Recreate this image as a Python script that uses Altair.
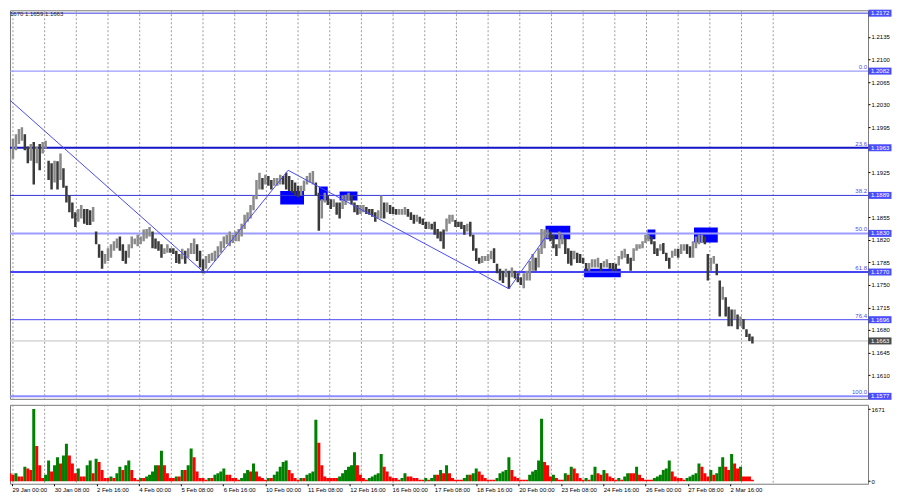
import json
import altair as alt
import pandas as pd
import numpy as np

FONT = "Liberation Sans"

# ---------------- data ----------------
# samples of the hourly EURUSD bars; time = trading hours after 29 Jan 00:00
first_hour = -6.0
hours_per_sample = 2.25

price_high = [
    1.1954, 1.1954, 1.1951, 1.1977, 1.1984, 1.1992, 1.1995, 1.1984, 1.1965, 1.1969,
    1.1972, 1.1965, 1.1969, 1.1972, 1.1974, 1.1943, 1.1939, 1.1943, 1.1942, 1.1954,
    1.1931, 1.1904, 1.1889, 1.1878, 1.1863, 1.1868, 1.1874, 1.1868, 1.1868, 1.1866,
    1.1871, 1.1833, 1.1813, 1.1803, 1.1798, 1.1807, 1.1813, 1.1818, 1.1822, 1.1825,
    1.1813, 1.1803, 1.1813, 1.1825, 1.1822, 1.1828, 1.1825, 1.1836, 1.1837, 1.1840,
    1.1833, 1.1822, 1.1818, 1.1813, 1.1807, 1.1813, 1.1807, 1.1807, 1.1803, 1.1798,
    1.1806, 1.1803, 1.1807, 1.1815, 1.1822, 1.1813, 1.1803, 1.1790, 1.1795, 1.1798,
    1.1800, 1.1803, 1.1810, 1.1818, 1.1825, 1.1828, 1.1833, 1.1828, 1.1833, 1.1837,
    1.1845, 1.1859, 1.1863, 1.1874, 1.1889, 1.1913, 1.1924, 1.1916, 1.1921, 1.1919,
    1.1913, 1.1916, 1.1916, 1.1921, 1.1919, 1.1924, 1.1919, 1.1913, 1.1909, 1.1904,
    1.1904, 1.1912, 1.1919, 1.1924, 1.1927, 1.1909, 1.1893, 1.1883, 1.1893, 1.1889,
    1.1883, 1.1883, 1.1878, 1.1878, 1.1889, 1.1890, 1.1893, 1.1889, 1.1878, 1.1874,
    1.1874, 1.1874, 1.1871, 1.1868, 1.1868, 1.1863, 1.1866, 1.1889, 1.1878, 1.1878,
    1.1874, 1.1871, 1.1868, 1.1868, 1.1868, 1.1871, 1.1868, 1.1863, 1.1859, 1.1859,
    1.1856, 1.1853, 1.1848, 1.1848, 1.1845, 1.1848, 1.1837, 1.1833, 1.1836, 1.1853,
    1.1859, 1.1859, 1.1851, 1.1848, 1.1848, 1.1843, 1.1845, 1.1848, 1.1828, 1.1807,
    1.1792, 1.1795, 1.1795, 1.1798, 1.1803, 1.1807, 1.1783, 1.1775, 1.1772, 1.1775,
    1.1772, 1.1777, 1.1772, 1.1768, 1.1762, 1.1768, 1.1772, 1.1787, 1.1798, 1.1792,
    1.1807, 1.1837, 1.1836, 1.1836, 1.1833, 1.1828, 1.1813, 1.1833, 1.1828, 1.1822,
    1.1807, 1.1803, 1.1803, 1.1800, 1.1798, 1.1792, 1.1784, 1.1784, 1.1790, 1.1790,
    1.1792, 1.1784, 1.1787, 1.1790, 1.1784, 1.1784, 1.1783, 1.1795, 1.1803, 1.1806,
    1.1798, 1.1792, 1.1807, 1.1813, 1.1813, 1.1818, 1.1828, 1.1828, 1.1825, 1.1818,
    1.1807, 1.1813, 1.1815, 1.1800, 1.1792, 1.1803, 1.1806, 1.1806, 1.1813, 1.1813,
    1.1813, 1.1810, 1.1818, 1.1825, 1.1828, 1.1828, 1.1825, 1.1798, 1.1792, 1.1795,
    1.1783, 1.1757, 1.1747, 1.1731, 1.1716, 1.1712, 1.1712, 1.1704, 1.1701, 1.1697,
    1.1681, 1.1674, 1.1670,
]
price_low = [
    1.1931, 1.1898, 1.1939, 1.1946, 1.1959, 1.1969, 1.1974, 1.1959, 1.1939, 1.1943,
    1.1906, 1.1939, 1.1928, 1.1954, 1.1962, 1.1913, 1.1898, 1.1909, 1.1898, 1.1913,
    1.1901, 1.1878, 1.1863, 1.1853, 1.1840, 1.1848, 1.1853, 1.1845, 1.1843, 1.1843,
    1.1848, 1.1813, 1.1792, 1.1775, 1.1783, 1.1787, 1.1792, 1.1803, 1.1807, 1.1803,
    1.1787, 1.1783, 1.1792, 1.1807, 1.1813, 1.1810, 1.1813, 1.1818, 1.1822, 1.1825,
    1.1807, 1.1806, 1.1803, 1.1792, 1.1798, 1.1800, 1.1800, 1.1798, 1.1784, 1.1783,
    1.1790, 1.1783, 1.1792, 1.1798, 1.1798, 1.1787, 1.1777, 1.1768, 1.1775, 1.1784,
    1.1787, 1.1787, 1.1792, 1.1800, 1.1807, 1.1813, 1.1810, 1.1815, 1.1818, 1.1818,
    1.1825, 1.1837, 1.1848, 1.1853, 1.1866, 1.1883, 1.1898, 1.1898, 1.1906, 1.1904,
    1.1898, 1.1904, 1.1904, 1.1906, 1.1906, 1.1898, 1.1896, 1.1893, 1.1889, 1.1886,
    1.1889, 1.1896, 1.1906, 1.1909, 1.1906, 1.1889, 1.1834, 1.1853, 1.1878, 1.1874,
    1.1868, 1.1871, 1.1859, 1.1853, 1.1868, 1.1874, 1.1881, 1.1875, 1.1863, 1.1859,
    1.1860, 1.1863, 1.1860, 1.1859, 1.1856, 1.1848, 1.1853, 1.1853, 1.1853, 1.1863,
    1.1860, 1.1860, 1.1859, 1.1859, 1.1859, 1.1859, 1.1856, 1.1851, 1.1845, 1.1848,
    1.1845, 1.1843, 1.1837, 1.1837, 1.1836, 1.1828, 1.1822, 1.1818, 1.1806, 1.1833,
    1.1845, 1.1848, 1.1840, 1.1840, 1.1837, 1.1828, 1.1833, 1.1825, 1.1803, 1.1787,
    1.1783, 1.1784, 1.1787, 1.1787, 1.1790, 1.1784, 1.1768, 1.1757, 1.1753, 1.1762,
    1.1744, 1.1762, 1.1760, 1.1754, 1.1750, 1.1745, 1.1757, 1.1757, 1.1772, 1.1772,
    1.1777, 1.1798, 1.1807, 1.1822, 1.1818, 1.1807, 1.1795, 1.1807, 1.1813, 1.1798,
    1.1783, 1.1780, 1.1790, 1.1784, 1.1784, 1.1783, 1.1772, 1.1772, 1.1777, 1.1777,
    1.1777, 1.1772, 1.1777, 1.1777, 1.1775, 1.1772, 1.1772, 1.1780, 1.1790, 1.1792,
    1.1783, 1.1772, 1.1787, 1.1803, 1.1806, 1.1807, 1.1815, 1.1818, 1.1813, 1.1798,
    1.1795, 1.1803, 1.1798, 1.1787, 1.1775, 1.1792, 1.1795, 1.1792, 1.1798, 1.1803,
    1.1798, 1.1792, 1.1792, 1.1807, 1.1813, 1.1815, 1.1813, 1.1757, 1.1772, 1.1783,
    1.1765, 1.1701, 1.1727, 1.1701, 1.1686, 1.1686, 1.1697, 1.1681, 1.1686, 1.1681,
    1.1669, 1.1663, 1.1659,
]
volume = [
    520, 817, 186, 149, 186, 111, 111, 334, 297, 260,
    1671, 817, 372, 74, 149, 483, 223, 372, 557, 409,
    594, 869, 594, 409, 186, 297, 111, 111, 372, 483,
    186, 520, 446, 260, 74, 74, 111, 74, 186, 334,
    260, 372, 483, 260, 74, 37, 74, 74, 111, 149,
    223, 372, 372, 706, 372, 186, 74, 74, 111, 111,
    260, 260, 372, 758, 557, 223, 74, 74, 37, 74,
    74, 149, 186, 223, 297, 149, 149, 74, 74, 37,
    74, 186, 260, 223, 409, 223, 111, 74, 37, 74,
    74, 149, 223, 334, 446, 483, 260, 186, 74, 37,
    74, 74, 149, 186, 223, 1427, 892, 372, 111, 74,
    74, 74, 74, 111, 186, 260, 334, 372, 669, 372,
    149, 74, 37, 74, 111, 149, 186, 632, 334, 223,
    111, 74, 74, 37, 74, 186, 111, 111, 74, 74,
    37, 37, 74, 37, 74, 149, 149, 260, 186, 372,
    186, 74, 37, 37, 37, 74, 149, 149, 186, 297,
    223, 149, 74, 37, 37, 37, 74, 186, 223, 260,
    557, 260, 111, 74, 37, 37, 37, 149, 223, 260,
    483, 1449, 446, 372, 111, 149, 74, 37, 37, 186,
    149, 334, 297, 186, 74, 37, 74, 37, 149, 334,
    186, 149, 260, 186, 111, 74, 37, 74, 37, 111,
    186, 186, 186, 334, 149, 74, 37, 37, 37, 74,
    111, 149, 260, 297, 483, 223, 111, 74, 74, 37,
    74, 111, 149, 186, 409, 334, 186, 111, 260, 149,
    186, 334, 557, 334, 260, 632, 409, 297, 334, 111,
    111, 111, 37,
]
volume_max = 1671

fib_levels = [1.2082, 1.1963, 1.1889, 1.1830, 1.1770, 1.1696, 1.1577]
fib_names = ["0.0", "23.6", "38.2", "50.0", "61.8", "76.4", "100.0"]
top_level = 1.2172
last_price = 1.1663

zigzag_hours = [-6.0, 146.25, 209.25, 376.5, 404.25]
zigzag_prices = [1.2045, 1.1768, 1.1928, 1.1744, 1.1824]

zone_start = [203.25, 232.5, 248.25, 404.25, 433.5, 481.5, 516.75]
zone_end = [221.25, 239.25, 261.75, 423.0, 461.25, 487.5, 534.75]
zone_top = [1.1896, 1.1903, 1.1895, 1.1842, 1.1775, 1.1836, 1.1839]
zone_bottom = [1.1875, 1.1881, 1.1881, 1.1821, 1.1762, 1.1821, 1.1816]

tick_prices = [1.2135, 1.2100, 1.2065, 1.2030, 1.1995, 1.1925, 1.1855, 1.1820,
               1.1785, 1.1750, 1.1715, 1.1680, 1.1645, 1.1610]
time_labels = ["29 Jan 00:00", "30 Jan 08:00", "2 Feb 16:00", "4 Feb 00:00",
               "5 Feb 08:00", "6 Feb 16:00", "10 Feb 00:00", "11 Feb 08:00",
               "12 Feb 16:00", "16 Feb 00:00", "17 Feb 08:00", "18 Feb 16:00",
               "20 Feb 00:00", "23 Feb 08:00", "24 Feb 16:00", "26 Feb 00:00",
               "27 Feb 08:00", "2 Mar 16:00"]
hours_per_label = 32
grid_hours = [0.75 + 24 * i for i in range(25)]
ohlc_text = "1670 1.1659 1.1663"

# ---------------- styles / layout ----------------
fib_colors = ["#9c9cff", "#1414c8", "#3434d8", "#9c9cff", "#4646f0", "#4646f0", "#8c8cff"]
fib_widths = [1.5, 2, 1, 2, 2, 1, 2]
UP_COL, DOWN_COL = "#8a8a8a", "#3a3a3a"

X_DOMAIN = [-1.5, 648.6]
PRICE_DOMAIN = [1.15731, 1.21765]
VOL_DOMAIN = [-58, 1770]
W, H_MAIN, H_VOL = 859, 389, 79

# ---------------- tables ----------------
n = len(price_high)
hours = [first_hour + hours_per_sample * i for i in range(n)]
bars = pd.DataFrame({"h": hours, "high": price_high, "low": price_low})
mid = (bars["high"] + bars["low"]) / 2
bars["col"] = np.where(mid.diff().fillna(0) >= 0, UP_COL, DOWN_COL)

vol = pd.DataFrame({"h": hours, "v": volume, "zero": 0})
vol["col"] = np.where(vol["v"].diff().fillna(1) > 0, "#008000", "#ff0000")

fib = pd.DataFrame({"price": fib_levels, "name": fib_names,
                    "col": fib_colors, "w": fib_widths})
grid = pd.DataFrame({"h": grid_hours})
zig = pd.DataFrame({"h": zigzag_hours, "price": zigzag_prices,
                    "i": list(range(len(zigzag_hours)))})
zones = pd.DataFrame({"h": zone_start, "h2": zone_end,
                      "price": zone_top, "p2": zone_bottom})
box_prices = [top_level] + fib_levels + [last_price]
boxes = pd.DataFrame({
    "price": box_prices,
    "lab": [f"{p:.4f}" for p in box_prices],
    "col": ["#0000ff"] * (len(fib_levels) + 1) + ["#000000"],
    "off": [1.0] + [0.0] * len(fib_levels) + [0.0],
})
single = pd.DataFrame({"price": [top_level], "lab": [ohlc_text]})
lastdf = pd.DataFrame({"price": [last_price]})

# ---------------- encodings ----------------
xs = alt.Scale(domain=X_DOMAIN, nice=False, zero=False)
ys = alt.Scale(domain=PRICE_DOMAIN, nice=False, zero=False)
vs = alt.Scale(domain=VOL_DOMAIN, nice=False, zero=False)

y_axis = alt.Axis(orient="right", values=tick_prices, format=".4f", labelFontSize=6,
                  labelColor="#000000", tickSize=2, tickColor="#000000", labelPadding=1,
                  domain=False, grid=False, title=None, labelOverlap=False)
XM = alt.X("h:Q", scale=xs, axis=None)
YM = alt.Y("price:Q", scale=ys, axis=y_axis)

label_expr = json.dumps(time_labels) + f"[round(datum.value / {hours_per_label})]"
x_axis = alt.Axis(values=[hours_per_label * i for i in range(len(time_labels))],
                  labelExpr=label_expr, labelAlign="left", labelFontSize=6,
                  labelColor="#000000", tickSize=2, tickColor="#000000", labelPadding=1,
                  domain=False, grid=False, title=None, labelFlush=False,
                  labelOverlap=False, labelBound=False)
XV = alt.X("h:Q", scale=xs, axis=x_axis)
v_axis = alt.Axis(orient="right", values=[0, volume_max], format="d", labelFontSize=6,
                  labelColor="#000000", tickSize=2, tickColor="#000000", labelPadding=1,
                  domain=False, grid=False, title=None, labelOverlap=False)

# ---------------- main panel ----------------
grid_main = alt.Chart(grid).mark_rule(color="#9c9c9c", strokeDash=[2, 2], strokeWidth=1,
                                      clip=True).encode(x=XM)
zone_layer = alt.Chart(zones).mark_rect(color="#0000ff", clip=True).encode(
    x=XM, x2="h2:Q", y=YM, y2="p2:Q")
fib_lines = alt.Chart(fib).mark_rule().encode(
    y=YM, color=alt.Color("col:N", scale=None),
    strokeWidth=alt.StrokeWidth("w:Q", scale=None))
top_line = alt.Chart(single).mark_rule(color="#3c3cdc", strokeWidth=1).encode(y=YM)
last_line = alt.Chart(lastdf).mark_rule(color="#c0c0c0", strokeWidth=1).encode(y=YM)
price_bars = alt.Chart(bars).mark_rule(strokeWidth=2.5, clip=True).encode(
    x=XM, y=alt.Y("low:Q", scale=ys, axis=y_axis), y2="high:Q",
    color=alt.Color("col:N", scale=None))
zig_line = alt.Chart(zig).mark_line(color="#4a4af5", strokeWidth=1, clip=True).encode(
    x=XM, y=YM, order="i:Q")
fib_text = alt.Chart(fib).mark_text(align="right", baseline="bottom", dy=-1, fontSize=6,
                                    color="#4a4af0").encode(
    x=alt.value(W - 1), y=YM, text="name:N")
box_marks = alt.Chart(boxes).mark_tick(orient="horizontal", size=23, thickness=7).encode(
    x=alt.value(W + 12), y=YM, yOffset=alt.YOffset("off:Q", scale=None),
    color=alt.Color("col:N", scale=None))
box_text = alt.Chart(boxes).mark_text(align="left", baseline="middle", fontSize=6,
                                      color="#ffffff").encode(
    x=alt.value(W + 3), y=YM, yOffset=alt.YOffset("off:Q", scale=None), text="lab:N")
ohlc = alt.Chart(single).mark_text(align="left", baseline="top", fontSize=6,
                                   color="#202020").encode(
    x=alt.value(0), y=alt.value(1), text="lab:N")

main = alt.layer(grid_main, zone_layer, fib_lines, top_line, last_line, price_bars,
                 zig_line, fib_text, box_marks, box_text, ohlc).properties(
    width=W, height=H_MAIN)

# ---------------- volume panel ----------------
grid_vol = alt.Chart(grid).mark_rule(color="#9c9c9c", strokeDash=[2, 2], strokeWidth=1,
                                     clip=True).encode(x=XV)
vol_bars = alt.Chart(vol).mark_rule(strokeWidth=3, clip=True).encode(
    x=XV, y=alt.Y("v:Q", scale=vs, axis=v_axis), y2="zero:Q",
    color=alt.Color("col:N", scale=None))
volp = alt.layer(grid_vol, vol_bars).properties(width=W, height=H_VOL)

chart = alt.vconcat(main, volp, spacing=3).properties(padding=0).configure(
    font=FONT).configure_view(stroke="#7a7a7a", strokeWidth=1)

chart.save("out.html", embed_options={"renderer": "svg", "actions": False})
